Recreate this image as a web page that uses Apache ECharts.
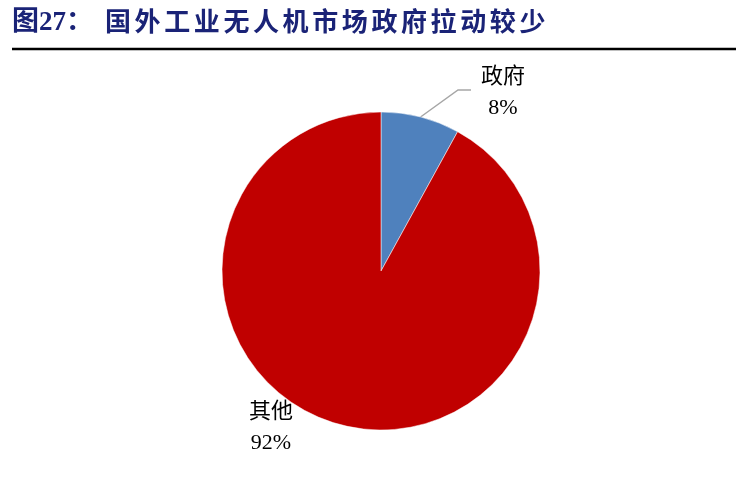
<!DOCTYPE html>
<html>
<head>
<meta charset="utf-8">
<script src="https://cdn.jsdelivr.net/npm/echarts@6/dist/echarts.min.js"></script>
<style>
  html, body { margin: 0; padding: 0; background: #fff; }
  #main { width: 736px; height: 492px; }
</style>
</head>
<body>
<div id="main"></div>
<script>
  // data
  var categories = ['政府', '其他'];
  var shares = [8, 92];
  var colors = ['#4F81BD', '#C00000'];

  var titleHead = '图27：';
  var titleBody = '国外工业无人机市场政府拉动较少';

  var cx = 381, cy = 271, r = 159;
  var serif = "'Liberation Serif', 'Times New Roman', 'Noto Sans CJK SC', serif";
  var titleColor = '#1A2377';

  // title laid out char by char to keep the wide spacing of the original
  var graphics = [{
    type: 'text', left: 12, top: 10,
    style: { text: titleHead, font: 'bold 27px ' + serif, fill: titleColor }
  }];
  titleBody.split('').forEach(function (ch, i) {
    graphics.push({
      type: 'text', left: 105 + i * 29.6, top: 11,
      style: { text: ch, font: 'bold 26px ' + serif, fill: titleColor }
    });
  });
  graphics.push({
    type: 'line',
    shape: { x1: 12, y1: 49, x2: 736, y2: 49 },
    style: { stroke: '#000', lineWidth: 2.5 }
  });

  var myChart = echarts.init(document.getElementById('main'));
  myChart.setOption({
    animation: false,
    graphic: graphics,
    series: [{
      type: 'pie',
      center: [cx, cy],
      radius: r,
      startAngle: 90,
      clockwise: true,
      itemStyle: { borderColor: '#fff', borderWidth: 0.5 },
      label: {
        show: true,
        position: 'outside',
        formatter: '{b}\n{d}%',
        fontFamily: serif,
        fontSize: 22,
        lineHeight: 31,
        color: '#000'
      },
      labelLine: { show: true, lineStyle: { color: '#A6A6A6', width: 1.5 } },
      labelLayout: function (params) {
        if (params.dataIndex === 0) {
          var a = (shares[0] / 2) / 100 * Math.PI * 2;
          var px = cx + r * Math.sin(a), py = cy - r * Math.cos(a);
          return {
            x: 503, y: 93, align: 'center', verticalAlign: 'middle',
            labelLinePoints: [[px, py], [458, 90], [471, 90]]
          };
        }
        return {
          x: 271, y: 428, align: 'center', verticalAlign: 'middle',
          labelLinePoints: [[0, 0], [0, 0], [0, 0]]
        };
      },
      data: categories.map(function (name, i) {
        return {
          name: name, value: shares[i],
          itemStyle: { color: colors[i] },
          labelLine: { show: i === 0 }
        };
      })
    }]
  });
</script>
</body>
</html>
